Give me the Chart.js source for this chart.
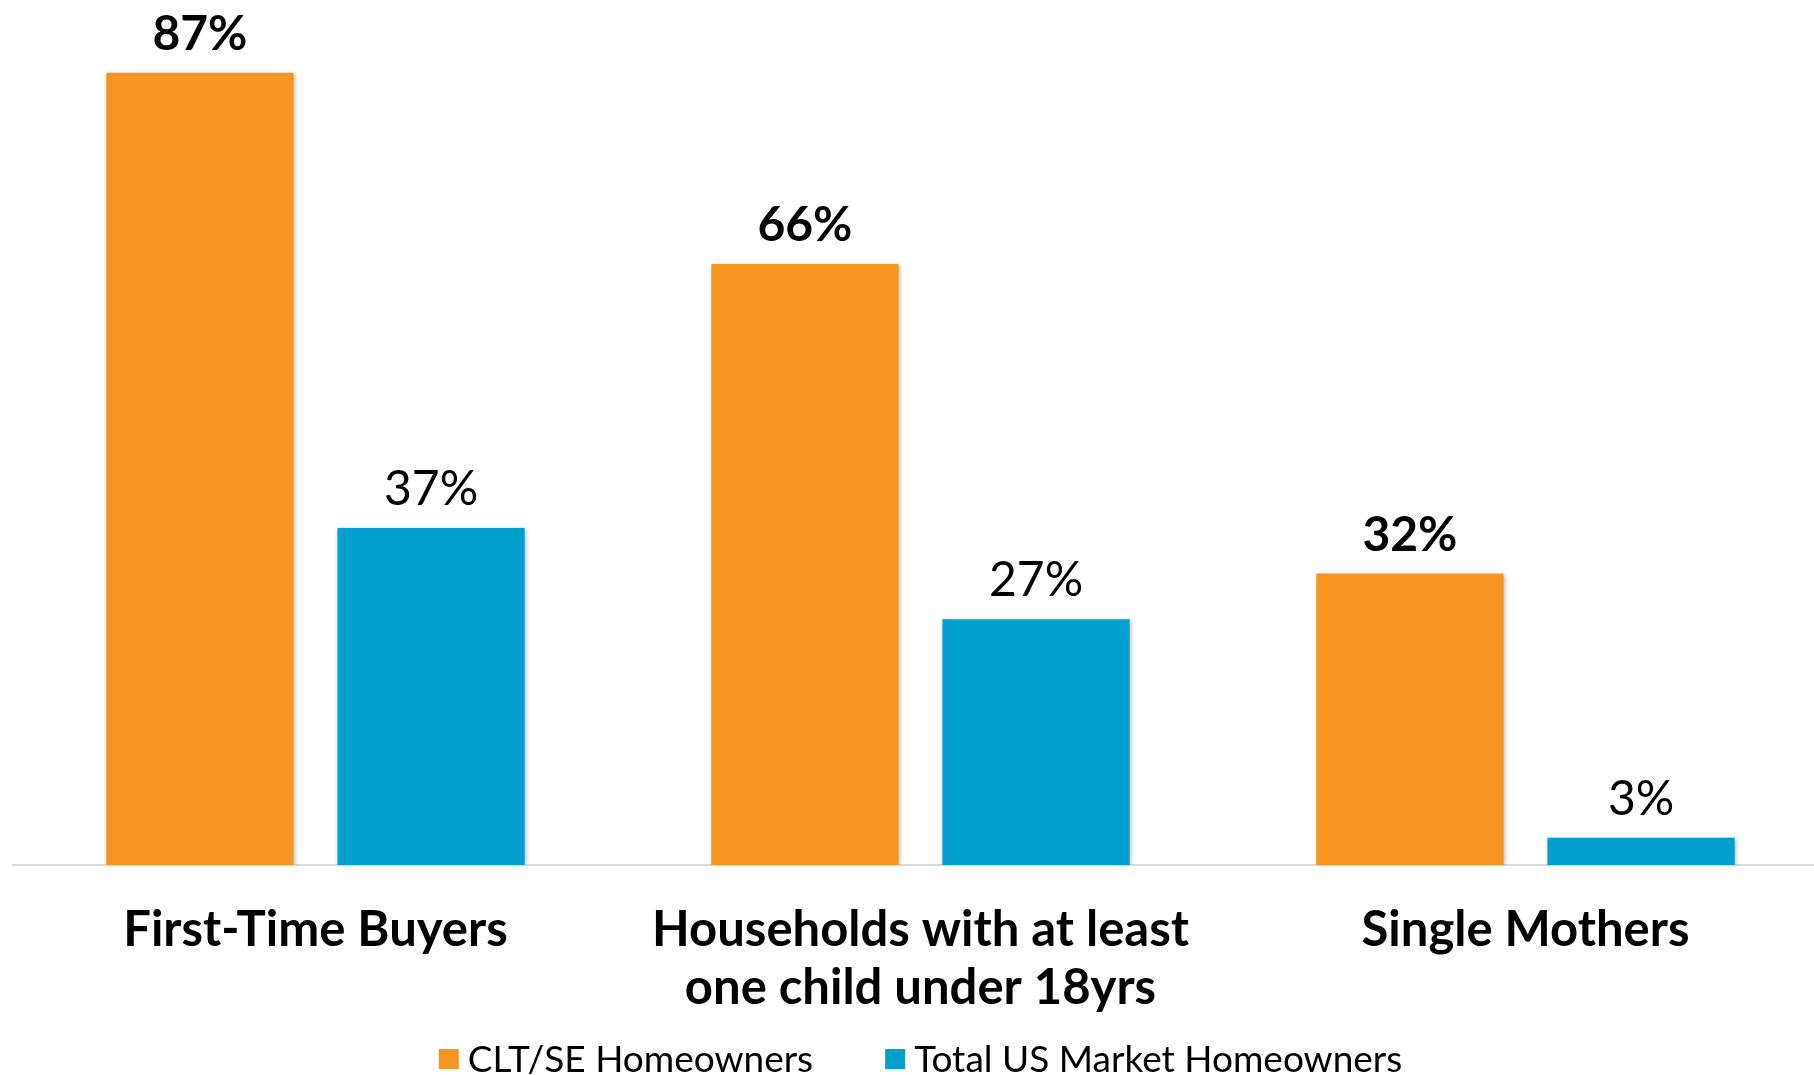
<!DOCTYPE html>
<html>
<head>
<meta charset="utf-8">
<script src="https://cdn.jsdelivr.net/npm/chart.js@4.4.1/dist/chart.umd.min.js"></script>
<style>
  html, body { margin: 0; padding: 0; background: #ffffff; overflow: hidden; }
  #wrap { width: 1814px; height: 1075px; position: relative; overflow: hidden; }
  #c { position: absolute; left: 0; top: 0; }
</style>
</head>
<body>
<div id="wrap"><canvas id="c" width="1828" height="1075"></canvas></div>
<script>
const categories = [
  "First-Time Buyers",
  ["Households with at least", "one child under 18yrs"],
  "Single Mothers"
];
const seriesNames = ["CLT/SE Homeowners", "Total US Market Homeowners"];
const cltValues = [87, 66, 32];
const usValues = [37, 27, 3];
const colors = ["#F6951F", "#00A0CE"];

const FONT = "Lato, 'Open Sans', sans-serif";

const valueLabels = {
  id: 'valueLabels',
  afterDatasetsDraw(chart) {
    const ctx = chart.ctx;
    ctx.save();
    ctx.textAlign = 'center';
    ctx.textBaseline = 'alphabetic';
    ctx.fillStyle = '#000000';
    chart.data.datasets.forEach((ds, di) => {
      const meta = chart.getDatasetMeta(di);
      ctx.font = (di === 0 ? 'bold ' : '') + '48px ' + FONT;
      meta.data.forEach((bar, i) => {
        ctx.fillText(ds.data[i] + '%', bar.x, bar.y - 23);
      });
    });
    ctx.restore();
  }
};

const barShadow = {
  id: 'barShadow',
  beforeDatasetsDraw(chart) {
    const ctx = chart.ctx;
    ctx.save();
    ctx.shadowColor = 'rgba(0,0,0,0.28)';
    ctx.shadowBlur = 4;
    ctx.shadowOffsetX = 1;
    ctx.shadowOffsetY = 1;
  },
  afterDatasetsDraw(chart) {
    chart.ctx.restore();
  }
};

const customLegend = {
  id: 'customLegend',
  afterDraw(chart) {
    const ctx = chart.ctx;
    const box = 20, textGap = 9, itemGap = 72;
    const centerY = 1059;
    ctx.save();
    ctx.font = '37px ' + FONT;
    ctx.textBaseline = 'middle';
    ctx.textAlign = 'left';
    const items = chart.data.datasets.map(ds => ({
      text: ds.label, color: ds.backgroundColor, w: ctx.measureText(ds.label).width
    }));
    let total = 0;
    items.forEach((it, i) => { total += box + textGap + it.w + (i < items.length - 1 ? itemGap : 0); });
    const cx = (chart.chartArea.left + chart.chartArea.right) / 2;
    let x = cx - total / 2;
    items.forEach(it => {
      ctx.fillStyle = it.color;
      ctx.fillRect(x, centerY - box / 2, box, box);
      ctx.fillStyle = '#000000';
      ctx.fillText(it.text, x + box + textGap, centerY + 1);
      x += box + textGap + it.w + itemGap;
    });
    ctx.restore();
  }
};

new Chart(document.getElementById('c'), {
  type: 'bar',
  data: {
    labels: categories,
    datasets: [
      { label: seriesNames[0], data: cltValues, backgroundColor: colors[0] },
      { label: seriesNames[1], data: usValues, backgroundColor: colors[1] }
    ]
  },
  options: {
    responsive: false,
    animation: false,
    devicePixelRatio: 1,
    layout: { padding: { left: 13, right: 0, top: 0, bottom: 30 } },
    datasets: { bar: { categoryPercentage: 0.764, barPercentage: 0.81 } },
    scales: {
      y: {
        display: false,
        min: 0,
        max: 95
      },
      x: {
        grid: { display: false },
        border: { display: true, color: '#D9D9D9', width: 2 },
        ticks: {
          color: '#000000',
          padding: 28,
          maxRotation: 0,
          autoSkip: false,
          font: { family: FONT, size: 49, weight: 'bold', lineHeight: 1.184 }
        }
      }
    },
    plugins: {
      legend: { display: false },
      tooltip: { enabled: false }
    }
  },
  plugins: [barShadow, valueLabels, customLegend]
});
</script>
</body>
</html>
